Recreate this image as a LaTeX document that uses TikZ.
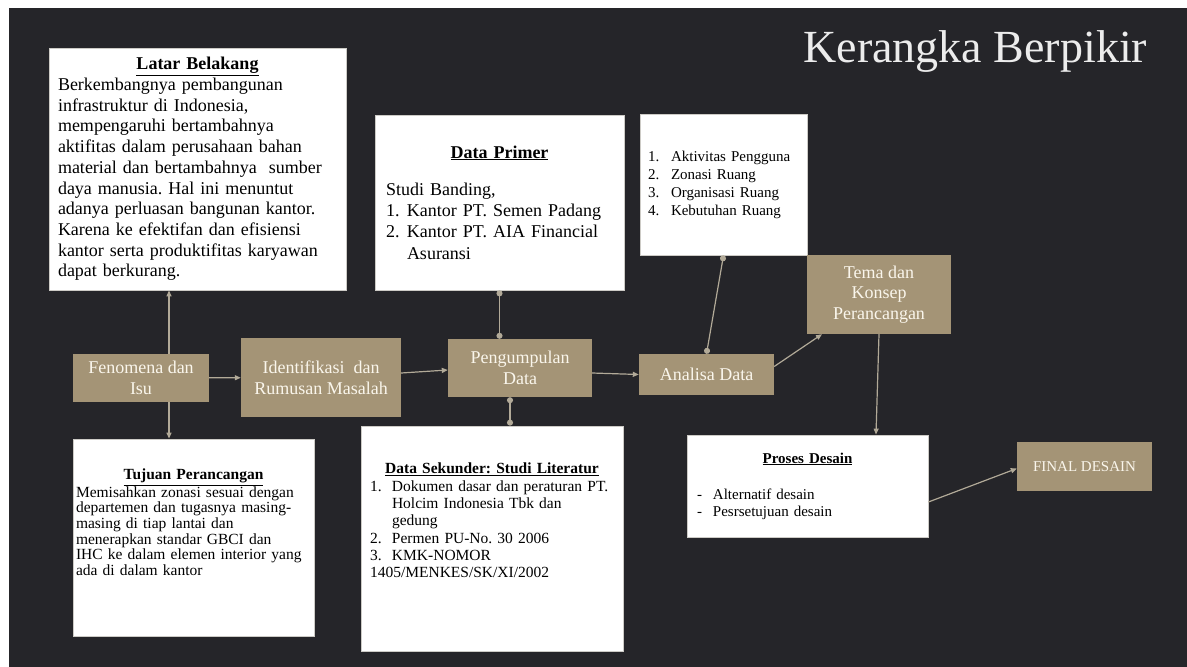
\documentclass[tikz,border=0pt]{standalone}
\usepackage{fontspec}
\setmainfont{Liberation Serif}
\usetikzlibrary{arrows.meta, positioning, calc}
\definecolor{colBack}{RGB}{37,37,41}
\definecolor{colTan}{RGB}{164,148,118}
\definecolor{colCream}{RGB}{250,246,236}
\definecolor{colLine}{RGB}{178,170,152}
\definecolor{colEdge}{RGB}{205,203,198}
\definecolor{colTitle}{RGB}{236,236,236}
\frenchspacing
\newcommand{\boxhead}[1]{{\centering\textbf{\underline{#1}}\par}}
\tikzset{
    tanbox/.style={rectangle, fill=colTan, text=colCream, inner sep=0pt,
        align=center, font=\fontsize{18}{20.5}\selectfont},
    notebox/.style={rectangle, draw=colEdge, fill=white, line width=0.8pt,
        inner sep=0pt, align=left, text=black},
    arrow/.style={-{Triangle[length=6pt, width=5pt]}, draw=colLine, line width=1.2pt},
    dotlink/.style={{Circle[length=6pt]}-{Circle[length=6pt]}, draw=colLine, line width=1.2pt}
}

\begin{document}
\begin{tikzpicture}[x=1pt, y=-1pt]

    \fill[white] (0,0) rectangle (1187,667);
    \fill[colBack] (9,8) rectangle (1187,667);

    \node[anchor=base west, text=colTitle, font=\fontsize{46}{50}\selectfont] (judul) at (800,62) {Kerangka Berpikir};

    \node[notebox, minimum width=297pt, minimum height=242pt, text width=279pt,
        font=\fontsize{18}{20.7}\selectfont] (latar) at (197.5,169) {\boxhead{Latar Belakang}
        Berkembangnya pembangunan\\
        infrastruktur di Indonesia,\\
        mempengaruhi bertambahnya\\
        aktifitas dalam perusahaan bahan\\
        material dan bertambahnya~ sumber\\
        daya manusia. Hal ini menuntut\\
        adanya perluasan bangunan kantor.\\
        Karena ke efektifan dan efisiensi\\
        kantor serta produktifitas karyawan\\
        dapat berkurang.};

    \node[tanbox, minimum width=136pt, minimum height=48pt] (fenomena) at (141,378) {Fenomena dan\\ Isu};
    \node[tanbox, minimum width=160pt, minimum height=79pt] (identifikasi) at (321,377.5) {Identifikasi~ dan\\ Rumusan Masalah};

    \node[notebox, minimum width=241pt, minimum height=197pt, text width=235pt,
        font=\fontsize{15.5}{15.7}\selectfont] (tujuan) at (193.5,537.5) {\boxhead{Tujuan Perancangan}
        Memisahkan zonasi sesuai dengan\\
        departemen dan tugasnya masing-\\
        masing di tiap lantai dan\\
        menerapkan standar GBCI dan\\
        IHC ke dalam elemen interior yang\\
        ada di dalam kantor\par\vspace*{30pt}};

    \node[notebox, minimum width=249pt, minimum height=175pt, text width=227pt,
        font=\fontsize{18}{21.3}\selectfont] (primer) at (499.5,202.5) {\boxhead{Data Primer}\vspace{16pt}
        Studi Banding,\\
        \makebox[21pt][l]{1.}Kantor PT. Semen Padang\\
        \makebox[21pt][l]{2.}Kantor PT. AIA Financial\\
        \hspace*{21pt}Asuransi};

    \node[tanbox, minimum width=144pt, minimum height=58pt] (kumpul) at (520,368) {Pengumpulan\\ Data};

    \node[notebox, minimum width=262pt, minimum height=225pt, text width=244pt,
        font=\fontsize{15.5}{17.3}\selectfont] (sekunder) at (492,538.5) {\boxhead{Data Sekunder: Studi Literatur}
        \makebox[22pt][l]{1.}Dokumen dasar dan peraturan PT.\\
        \hspace*{22pt}Holcim Indonesia Tbk dan\\
        \hspace*{22pt}gedung\\
        \makebox[22pt][l]{2.}Permen PU-No. 30 2006\\
        \makebox[22pt][l]{3.}KMK-NOMOR\\
        1405/MENKES/SK/XI/2002\par\vspace*{36pt}};

    \node[notebox, minimum width=167pt, minimum height=141pt, text width=151pt,
        font=\fontsize{15}{18}\selectfont] (aspek) at (723.5,184.5) {%
        \makebox[23pt][l]{1.}Aktivitas Pengguna\\
        \makebox[23pt][l]{2.}Zonasi Ruang\\
        \makebox[23pt][l]{3.}Organisasi Ruang\\
        \makebox[23pt][l]{4.}Kebutuhan Ruang};

    \node[tanbox, minimum width=135pt, minimum height=41pt] (analisa) at (706.5,374.5) {Analisa Data};
    \node[tanbox, minimum width=144pt, minimum height=79pt] (tema) at (879,294.5) {Tema dan\\ Konsep\\ Perancangan};

    \node[notebox, minimum width=241pt, minimum height=102pt, text width=221pt,
        font=\fontsize{15}{17}\selectfont] (proses) at (807.5,486) {\boxhead{Proses Desain}\vspace{19pt}
        \makebox[16pt][l]{-}Alternatif desain\\
        \makebox[16pt][l]{-}Pesrsetujuan desain};

    \node[tanbox, minimum width=135pt, minimum height=49pt, font=\fontsize{15}{17}\selectfont] (final) at (1084.5,466.5) {FINAL DESAIN};

    \draw[arrow] ([xshift=28pt]fenomena.north) -- ([xshift=28pt]fenomena.north |- latar.south);
    \draw[arrow] ([xshift=28pt]fenomena.south) -- ([xshift=28pt]fenomena.south |- tujuan.north);
    \draw[arrow] (fenomena) -- (identifikasi);
    \draw[arrow] ([yshift=4.5pt]identifikasi.east) -- ([yshift=-2pt]kumpul.west);
    \draw[dotlink] (kumpul.north -| primer.south) -- (primer.south);
    \draw[dotlink] ([xshift=-10pt]kumpul.south) -- ([xshift=-10pt]kumpul.south |- sekunder.north);
    \draw[arrow] ([yshift=-5pt]kumpul.east) -- (analisa.west);
    \draw[dotlink] (analisa.north) -- (aspek.south);
    \draw[arrow] ([yshift=8pt]analisa.east) -- ([xshift=-57pt]tema.south);
    \draw[arrow] (tema.south) -- ([xshift=68.5pt]proses.north);
    \draw[arrow] ([yshift=-16pt]proses.east) -- ([yshift=-2pt]final.west);

\end{tikzpicture}
\end{document}
